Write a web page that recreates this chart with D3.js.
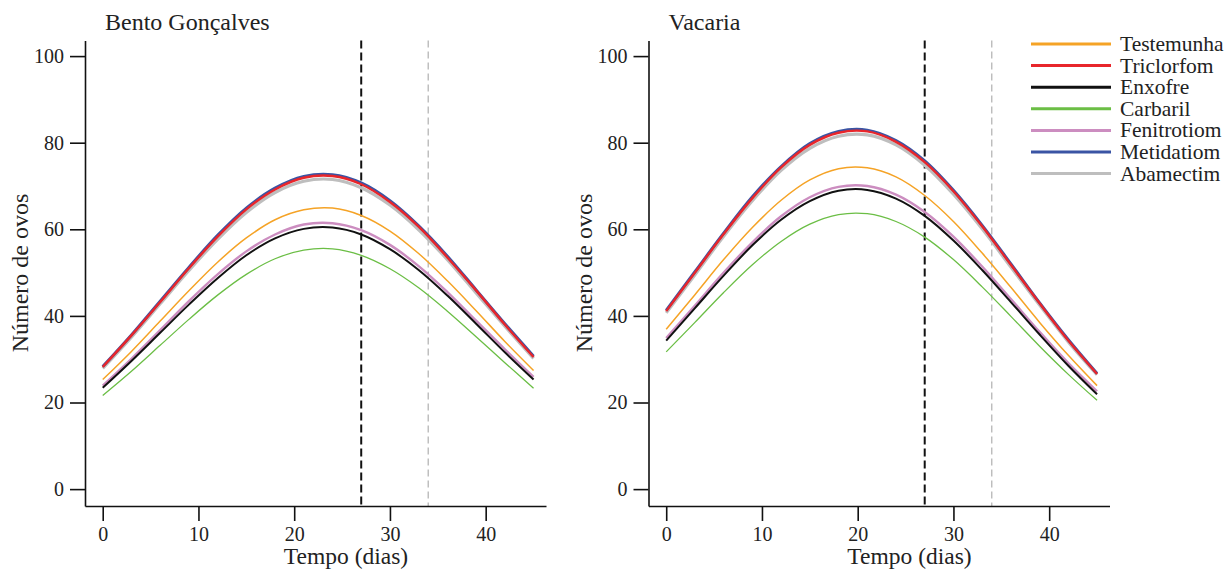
<!DOCTYPE html>
<html>
<head>
<meta charset="utf-8">
<script src="https://cdn.jsdelivr.net/npm/d3@7"></script>
<style>
body{margin:0;background:#fff;}
svg text{font-family:"Liberation Serif","Times New Roman",serif;fill:#222;}
</style>
</head>
<body>
<svg id="ovosGraph"></svg>
<script>
// dias
var days = [0,3,6,9,12,15,18,21,24,27,30,33,36,39,42,45]

var seriesNames = ["Testemunha","Triclorfom","Enxofre","Carbaril","Fenitrotiom","Metidatiom","Abamectim"]

var xTicks = [0,10,20,30,40]
var yTicks = [0,20,40,60,80,100]
var vLines = [27,34]

// Bento Gonçalves
var bentoTestemunha  = [25.3,31.8,38.8,45.8,52.4,58.0,62.2,64.5,64.9,63.2,59.6,54.4,48.1,41.2,34.1,27.4]
var bentoTriclorfom  = [28.2,35.5,43.2,51.0,58.3,64.6,69.2,71.9,72.3,70.4,66.3,60.6,53.5,45.9,38.0,30.5]
var bentoEnxofre     = [23.4,29.6,36.1,42.6,48.7,54.0,57.9,60.1,60.4,58.8,55.4,50.6,44.7,38.2,31.6,25.3]
var bentoCarbaril    = [21.6,27.2,33.2,39.2,44.8,49.6,53.2,55.2,55.5,54.0,50.9,46.5,41.1,35.2,29.2,23.3]
var bentoFenitrotiom = [23.9,30.1,36.7,43.4,49.6,54.9,58.8,61.1,61.4,59.8,56.4,51.5,45.5,38.9,32.3,25.9]
var bentoMetidatiom  = [28.3,35.6,43.4,51.2,58.6,64.9,69.5,72.2,72.6,70.7,66.6,60.8,53.8,46.0,38.2,30.7]
var bentoAbamectim   = [27.9,35.1,42.8,50.5,57.7,63.9,68.5,71.1,71.5,69.6,65.6,59.9,53.0,45.3,37.6,30.2]

// Vacaria
var vacariaTestemunha  = [36.9,44.9,53.0,60.4,66.7,71.4,74.0,74.2,72.1,67.8,61.8,54.5,46.6,38.5,30.9,23.9]
var vacariaTriclorfom  = [41.1,50.0,58.9,67.2,74.3,79.5,82.3,82.6,80.2,75.5,68.8,60.7,51.8,42.9,34.3,26.6]
var vacariaEnxofre     = [34.3,41.8,49.3,56.3,62.2,66.5,68.9,69.1,67.1,63.1,57.4,50.6,43.2,35.7,28.5,21.9]
var vacariaCarbaril    = [31.7,38.5,45.4,51.8,57.2,61.2,63.4,63.6,61.8,58.2,53.0,46.7,39.9,33.0,26.5,20.5]
var vacariaFenitrotiom = [34.9,42.4,50.0,57.0,63.0,67.4,69.8,70.0,68.0,64.0,58.3,51.4,43.9,36.3,29.1,22.6]
var vacariaMetidatiom  = [41.3,50.2,59.1,67.5,74.5,79.8,82.6,82.9,80.5,75.8,69.0,60.9,52.0,43.0,34.5,26.7]
var vacariaAbamectim   = [40.7,49.5,58.4,66.6,73.6,78.7,81.5,81.8,79.5,74.8,68.1,60.1,51.3,42.5,34.0,26.4]

var colors = {
    Testemunha:"#F5A326",
    Triclorfom:"#E8262B",
    Enxofre:"#111111",
    Carbaril:"#6BBE45",
    Fenitrotiom:"#CC8DC0",
    Metidatiom:"#3A54A4",
    Abamectim:"#BEBEBE"
}
var widths = {
    Testemunha:1.5,
    Triclorfom:2.4,
    Enxofre:2,
    Carbaril:1.3,
    Fenitrotiom:2.4,
    Metidatiom:3,
    Abamectim:3.2
}
// ordem de desenho
var drawOrder = ["Abamectim","Metidatiom","Triclorfom","Testemunha","Carbaril","Fenitrotiom","Enxofre"]

var panels = [
    {title:"Bento Gonçalves",dx:0,
     data:{Testemunha:bentoTestemunha,Triclorfom:bentoTriclorfom,Enxofre:bentoEnxofre,Carbaril:bentoCarbaril,
           Fenitrotiom:bentoFenitrotiom,Metidatiom:bentoMetidatiom,Abamectim:bentoAbamectim}},
    {title:"Vacaria",dx:563.5,
     data:{Testemunha:vacariaTestemunha,Triclorfom:vacariaTriclorfom,Enxofre:vacariaEnxofre,Carbaril:vacariaCarbaril,
           Fenitrotiom:vacariaFenitrotiom,Metidatiom:vacariaMetidatiom,Abamectim:vacariaAbamectim}}
]

var screen = {width:1226,height:571}
var plot = {left:85,right:546,top:40.5,bottom:506}

var svg = d3.select("#ovosGraph")
    .attr("width",screen.width)
    .attr("height",screen.height)

var xScale = d3.scaleLinear()
    .domain([-1.85,46.3])
    .range([plot.left,plot.right])

var yScale = d3.scaleLinear()
    .domain([-3.9,103.6])
    .range([plot.bottom,plot.top])

var line = d3.line()
    .x(function(d){return xScale(d.t)})
    .y(function(d){return yScale(d.v)})
    .curve(d3.curveCatmullRom)

var drawPanel = function(panel)
{
    var g = svg.append("g")
        .attr("transform","translate("+panel.dx+",0)")

    // linhas verticais tracejadas
    g.selectAll(".vline")
        .data(vLines)
        .enter()
        .append("line")
        .attr("x1",function(d){return xScale(d)})
        .attr("x2",function(d){return xScale(d)})
        .attr("y1",plot.top)
        .attr("y2",plot.bottom)
        .attr("stroke",function(d,i){return i==0?"#111":"#BBBBBB"})
        .attr("stroke-width",function(d,i){return i==0?2:1.4})
        .attr("stroke-dasharray",function(d,i){return i==0?"8,4":"7,4"})

    drawOrder.forEach(function(name){
        var pts = days.map(function(t,i){return {t:t,v:panel.data[name][i]}})
        g.append("path")
            .datum(pts)
            .attr("d",line)
            .attr("fill","none")
            .attr("stroke",colors[name])
            .attr("stroke-width",widths[name])
    })

    var xAxis = d3.axisBottom(xScale)
        .tickValues(xTicks)
        .tickSize(15)
        .tickSizeOuter(0)
        .tickPadding(6)
    var yAxis = d3.axisLeft(yScale)
        .tickValues(yTicks)
        .tickSize(15)
        .tickSizeOuter(0)
        .tickPadding(6)

    var ax = g.append("g")
        .attr("transform","translate(0,"+plot.bottom+")")
        .call(xAxis)
    var ay = g.append("g")
        .attr("transform","translate("+plot.left+",0)")
        .call(yAxis)

    ;[ax,ay].forEach(function(a){
        a.select(".domain").attr("stroke","#111").attr("stroke-width",1.6)
        a.selectAll(".tick line").attr("stroke","#111").attr("stroke-width",1.6)
        a.selectAll(".tick text")
            .attr("fill","#222")
            .style("font-size","20px")
            .style("font-family","'Liberation Serif',serif")
    })

    g.append("text")
        .text(panel.title)
        .attr("x",105)
        .attr("y",30)
        .style("font-size","24px")

    g.append("text")
        .text("Tempo (dias)")
        .attr("text-anchor","middle")
        .attr("x",346)
        .attr("y",564)
        .style("font-size","23.5px")

    g.append("g")
        .attr("transform","translate(28,273)")
        .append("text")
        .text("Número de ovos")
        .attr("text-anchor","middle")
        .attr("transform","rotate(-90)")
        .style("font-size","24px")
}

panels.forEach(drawPanel)

// legenda
var legend = svg.append("g")
    .attr("transform","translate(1031,44)")

var leg = legend.selectAll("g")
    .data(seriesNames)
    .enter()
    .append("g")
    .attr("transform",function(d,i){return "translate(0,"+(i*21.6)+")"})

leg.append("line")
    .attr("x1",0)
    .attr("x2",80)
    .attr("stroke",function(d){return colors[d]})
    .attr("stroke-width",3)

leg.append("text")
    .text(function(d){return d})
    .attr("x",89)
    .attr("y",7)
    .style("font-size","21.5px")
</script>
</body>
</html>
